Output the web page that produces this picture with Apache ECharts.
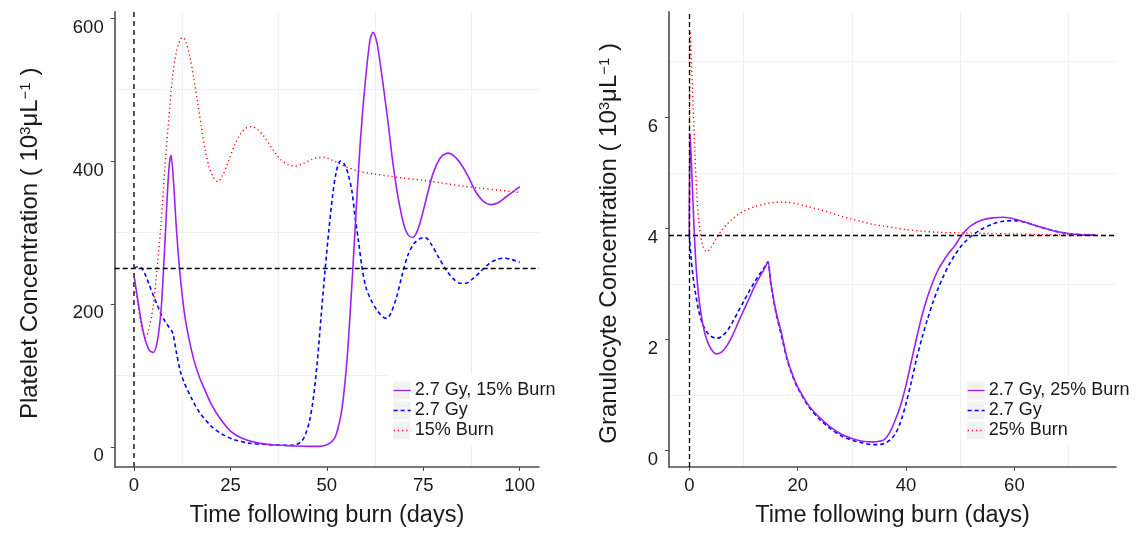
<!DOCTYPE html>
<html><head><meta charset="utf-8">
<script src="https://cdn.jsdelivr.net/npm/echarts@6/dist/echarts.min.js"></script>
<style>html,body{margin:0;padding:0;background:#fff}#c{width:1139px;height:533px}</style>
</head><body><div id="c"></div>
<script>
const FONT = 'Liberation Sans, Arial, sans-serif';

// ---------- tick values ----------
const plateletTicksX = [0, 25, 50, 75, 100];
const plateletMinorX = [12.5, 37.5, 62.5, 87.5];
const plateletTicksY = [0, 200, 400, 600];
const plateletMinorY = [100, 300, 500];
const granTicksX = [0, 20, 40, 60];
const granMinorX = [10, 30, 50, 70];
const granTicksY = [0, 2, 4, 6];
const granMinorY = [1, 3, 5, 7];

// ---------- reference lines ----------
const burnDay = 0;
const plateletBaseline = 250;
const granBaseline = 3.87;

// ---------- legend names ----------
const plateletNames = ['2.7 Gy, 15% Burn', '2.7 Gy', '15% Burn'];
const granNames = ['2.7 Gy, 25% Burn', '2.7 Gy', '25% Burn'];

// ---------- platelet data [day, 10^3/uL] ----------
const plateletCombined = [[0,240],[1,205],[2,172],[3,148],[4,135],[5,132],[6,146],[7,190],[7.8,262],[8.5,338],[9.1,392],[9.6,408],[10.2,375],[11,305],[12,238],[13,190],[14,158],[15.5,122],[17,97],[18.5,78],[20,60],[22,42],[25,22],[28,12],[32,5.5],[36,2.8],[40,1.6],[44,0.8],[47,0.5],[49,1.2],[50.5,4],[52,12],[53,28],[54,56],[55.3,127],[56.7,246],[57.6,331],[58.6,421],[59.9,507],[61.2,570],[62,580],[63,565],[64,530],[65,490],[66,448],[67,402],[68.5,348],[70,310],[71,297],[72.2,293],[73.3,300],[74.5,320],[76,352],[77.5,382],[79.5,405],[81.5,411],[83,407],[84.5,398],[86.5,380],[88.5,358],[90.5,344],[92.5,339],[94.5,342],[96.5,350],[98.5,358],[100,364]];
const plateletRadiation = [[0,250],[1,252],[2,250],[3,240],[4,226],[5,212],[6,199],[7,186],[8,176],[9,168],[10,160],[11,132],[12,106],[13,90],[15,67],[17,48],[20,29],[23,17],[26,10],[30,5],[35,3],[40,2],[42,3],[43.5,8],[44.5,18],[45.5,36],[46.5,68],[47.5,118],[48.5,182],[49.5,245],[50.5,302],[51.5,352],[52.5,386],[53.5,400],[54.5,396],[55.5,382],[56.5,358],[57.3,322],[58.2,288],[59.2,248],[60.2,222],[61.5,205],[63,191],[64.5,182],[65.5,180],[66.5,186],[68,208],[69.5,240],[71,268],[72.5,284],[74,291],[75.5,293],[77,284],[79,265],[81,247],[83,234],[84.5,229],[86,229],[88,236],[90,246],[92,256],[94,262],[96,264],[98,262],[100,258]];
const plateletBurn = [[0,240],[1,200],[2,166],[3,153],[4,168],[5,198],[6,250],[7,312],[8,390],[9,458],[10,518],[11,553],[12,570],[12.7,573],[13.5,566],[14.5,546],[15.5,516],[16.5,482],[17.5,447],[18.5,414],[19.5,391],[20.5,378],[21.7,371],[23,380],[24.5,400],[26,421],[27.5,437],[29,446],[30.5,448],[32,444],[33.5,436],[35,424],[36.5,412],[38,402],[40,395],[42,393],[44,397],[46,402],[48,405],[49.5,405],[51,402],[53,397],[55,392],[58,386],[62,382],[66,379],[70,376],[75,373],[80,369],[85,365],[90,362],[95,359],[100,356]];

// ---------- granulocyte data [day, 10^3/uL] ----------
const granCombined = [[0,3.88],[0.15,5.7],[0.5,4.9],[0.9,3.95],[1.3,3.25],[1.8,2.72],[2.5,2.27],[3.2,2.0],[4,1.83],[5,1.74],[6,1.78],[7,1.9],[8,2.08],[9,2.3],[10,2.52],[11,2.73],[12,2.95],[13,3.13],[14,3.3],[14.5,3.4],[15,3.05],[16,2.5],[17,2.12],[18,1.68],[19,1.38],[20,1.15],[22,0.82],[24,0.6],[26,0.43],[28,0.3],[30,0.22],[32,0.17],[34,0.16],[35,0.17],[36,0.2],[37,0.33],[38,0.55],[39,0.82],[40,1.18],[41,1.62],[42,2.05],[43,2.45],[44,2.78],[45,3.05],[46,3.27],[47,3.43],[48,3.57],[49,3.69],[50,3.84],[51,3.96],[52,4.05],[54,4.15],[56,4.19],[58,4.2],[60,4.17],[62,4.11],[64,4.05],[66,3.99],[68,3.94],[70,3.91],[72,3.89],[75,3.88]];
const granRadiation = [[0,3.88],[0.3,3.5],[0.7,3.12],[1.1,2.86],[1.7,2.53],[2.5,2.27],[3.2,2.14],[4,2.06],[5,2.02],[6,2.06],[7,2.16],[8,2.32],[9,2.5],[10,2.68],[11,2.86],[12,3.03],[13,3.18],[14,3.32],[14.5,3.4],[15,3.03],[16,2.48],[17,2.07],[18,1.66],[19,1.36],[20,1.13],[22,0.8],[24,0.57],[26,0.4],[28,0.27],[30,0.19],[32,0.14],[34,0.11],[35,0.11],[36,0.13],[37,0.19],[38,0.3],[39,0.52],[40,0.85],[41,1.25],[42,1.68],[43,2.05],[44,2.38],[45,2.68],[46,2.94],[47,3.16],[48,3.36],[49,3.52],[50,3.66],[51,3.77],[52,3.86],[54,3.99],[56,4.08],[58,4.13],[60,4.14],[62,4.11],[64,4.05],[66,3.99],[68,3.94],[70,3.91],[72,3.89],[75,3.88]];
const granBurn = [[0,3.88],[0.15,7.55],[0.4,7.0],[0.7,6.2],[1.0,5.4],[1.4,4.6],[1.9,4.0],[2.5,3.68],[3.2,3.58],[4,3.66],[5,3.82],[6,3.97],[7,4.08],[8,4.17],[9,4.25],[10,4.31],[12,4.39],[14,4.44],[16,4.47],[18,4.47],[20,4.44],[22,4.39],[24,4.34],[26,4.28],[28,4.22],[30,4.17],[32,4.12],[34,4.07],[36,4.04],[38,4.01],[40,3.98],[43,3.95],[46,3.93],[50,3.92],[55,3.91],[60,3.9],[65,3.89],[70,3.885],[75,3.88]];

// ---------- styling ----------
const PURPLE = '#A020F0', BLUE = '#0000FF', RED = '#FF0000';
const AXIS_COL = '#4d4d4d', TEXT_COL = '#1a1a1a', GRID_COL = '#efefef';

function mainX(grid, min, max, ticks) {
  return {
    type: 'value', gridIndex: grid, min: min, max: max, position: 'bottom',
    name: 'Time following burn (days)', nameLocation: 'middle', nameGap: 37,
    nameTextStyle: {fontFamily: FONT, fontSize: 23.5, color: TEXT_COL},
    axisLine: {show: true, onZero: false, lineStyle: {color: AXIS_COL, width: 1.6}},
    axisTick: {show: true, inside: false, length: 4, customValues: ticks, lineStyle: {color: AXIS_COL, width: 1}},
    axisLabel: {show: true, customValues: ticks, margin: 9.5, fontFamily: FONT, fontSize: 18.5, color: TEXT_COL},
    splitLine: {show: false}, minorTick: {show: false}, minorSplitLine: {show: false}
  };
}
function minorX(grid, min, max, vals) {
  return {
    type: 'value', gridIndex: grid, min: min, max: max, position: 'bottom',
    axisLine: {show: false}, axisTick: {show: false, customValues: vals},
    axisLabel: {show: false, customValues: vals},
    splitLine: {show: true, lineStyle: {color: GRID_COL, width: 1}}
  };
}
function mainY(grid, min, max, ticks, name, gap) {
  return {
    type: 'value', gridIndex: grid, min: min, max: max, position: 'left',
    name: name, nameLocation: 'middle', nameGap: gap, nameRotate: 90,
    nameTextStyle: {fontFamily: FONT, fontSize: 24, color: TEXT_COL, padding: [0, 8, 0, 0],
      rich: {sup: {fontFamily: FONT, fontSize: 15, color: TEXT_COL, verticalAlign: 'top'}}},
    axisLine: {show: true, onZero: false, lineStyle: {color: AXIS_COL, width: 1.6}},
    axisTick: {show: true, inside: false, length: 4, customValues: ticks, lineStyle: {color: AXIS_COL, width: 1}},
    axisLabel: {show: true, customValues: ticks, margin: 11, verticalAlign: 'top', fontFamily: FONT, fontSize: 18.5, color: TEXT_COL},
    splitLine: {show: false}, minorTick: {show: false}, minorSplitLine: {show: false}
  };
}
function minorY(grid, min, max, vals) {
  return {
    type: 'value', gridIndex: grid, min: min, max: max, position: 'left',
    axisLine: {show: false}, axisTick: {show: false, customValues: vals},
    axisLabel: {show: false, customValues: vals},
    splitLine: {show: true, lineStyle: {color: GRID_COL, width: 1}}
  };
}
function lineSeries(name, data, xi, yi, color, type, width, extra) {
  return Object.assign({
    name: name, type: 'line', data: data, xAxisIndex: xi, yAxisIndex: yi,
    symbol: 'none', showSymbol: false, smooth: 0.3, animation: false, z: 3,
    lineStyle: {color: color, width: width, type: type}, itemStyle: {color: color}
  }, extra || {});
}
function refLines(xv, yv, vcol, vwidth, vdash) {
  return {
    silent: true, symbol: 'none', animation: false, label: {show: false},
    data: [
      {xAxis: xv, lineStyle: {color: vcol, width: vwidth, type: vdash}},
      {yAxis: yv, lineStyle: {color: '#000', width: 1.3, type: [5, 3]}}
    ]
  };
}

const legendBase = {
  orient: 'vertical', itemWidth: 17, itemHeight: 18, itemGap: 2, padding: 0,
  itemStyle: {opacity: 0, borderWidth: 0},
  lineStyle: {width: 1.3},
  textStyle: {fontFamily: FONT, fontSize: 18, color: TEXT_COL, padding: [0,0,0,-1]},
  inactiveColor: '#ccc', selectedMode: false
};

const graphicEls = [];
function legendBack(x, y, w, h, keyX, keyY0) {
  graphicEls.push({type: 'rect', z: 1, silent: true, shape: {x: x, y: y, width: w, height: h}, style: {fill: '#fff'}});
  for (let i = 0; i < 3; i++) {
    graphicEls.push({type: 'rect', z: 1, silent: true, shape: {x: keyX, y: keyY0 + i * 20, width: 17, height: 18}, style: {fill: '#f2f2f2'}});
  }
}
legendBack(387, 374, 173, 72, 393, 381.5);
legendBack(962, 374, 177, 72, 967, 381.5);

const option = {
  backgroundColor: '#fff',
  animation: false,
  grid: [
    {left: 114.7, right: 600, top: 11.7, bottom: 64, containLabel: false},
    {left: 669, right: 23, top: 11.7, bottom: 64, containLabel: false}
  ],
  xAxis: [
    mainX(0, -5, 105, plateletTicksX), minorX(0, -5, 105, plateletMinorX),
    mainX(1, -3.75, 78.75, granTicksX), minorX(1, -3.75, 78.75, granMinorX)
  ],
  yAxis: [
    mainY(0, -28.3, 609, plateletTicksY, 'Platelet Concentration ( 10{sup|3}μL{sup|−1} )', 72),
    minorY(0, -28.3, 609, plateletMinorY),
    mainY(1, -0.293, 7.9, granTicksY, 'Granulocyte Concentration ( 10{sup|3}μL{sup|−1} )', 48),
    minorY(1, -0.293, 7.9, granMinorY)
  ],
  legend: [
    Object.assign({}, legendBase, {data: plateletNames, left: 393, top: 381.5}),
    Object.assign({}, legendBase, {data: granNames, left: 967, top: 381.5})
  ],
  graphic: {elements: graphicEls},
  series: [
    lineSeries(plateletNames[2], plateletBurn, 0, 0, RED, [1.2, 3], 1.4,
      {markLine: refLines(burnDay, plateletBaseline, '#555', 2, [5, 4])}),
    lineSeries(plateletNames[1], plateletRadiation, 0, 0, BLUE, [4, 3], 1.6),
    lineSeries(plateletNames[0], plateletCombined, 0, 0, PURPLE, 'solid', 1.6),
    lineSeries(granNames[2], granBurn, 2, 2, RED, [1.2, 3], 1.4,
      {markLine: refLines(burnDay, granBaseline, '#000', 1.3, [5, 3])}),
    lineSeries(granNames[1], granRadiation, 2, 2, BLUE, [4, 3], 1.6),
    lineSeries(granNames[0], granCombined, 2, 2, PURPLE, 'solid', 1.6)
  ]
};
const chart = echarts.init(document.getElementById('c'), null, {renderer: 'canvas'});
chart.setOption(option);
</script></body></html>
